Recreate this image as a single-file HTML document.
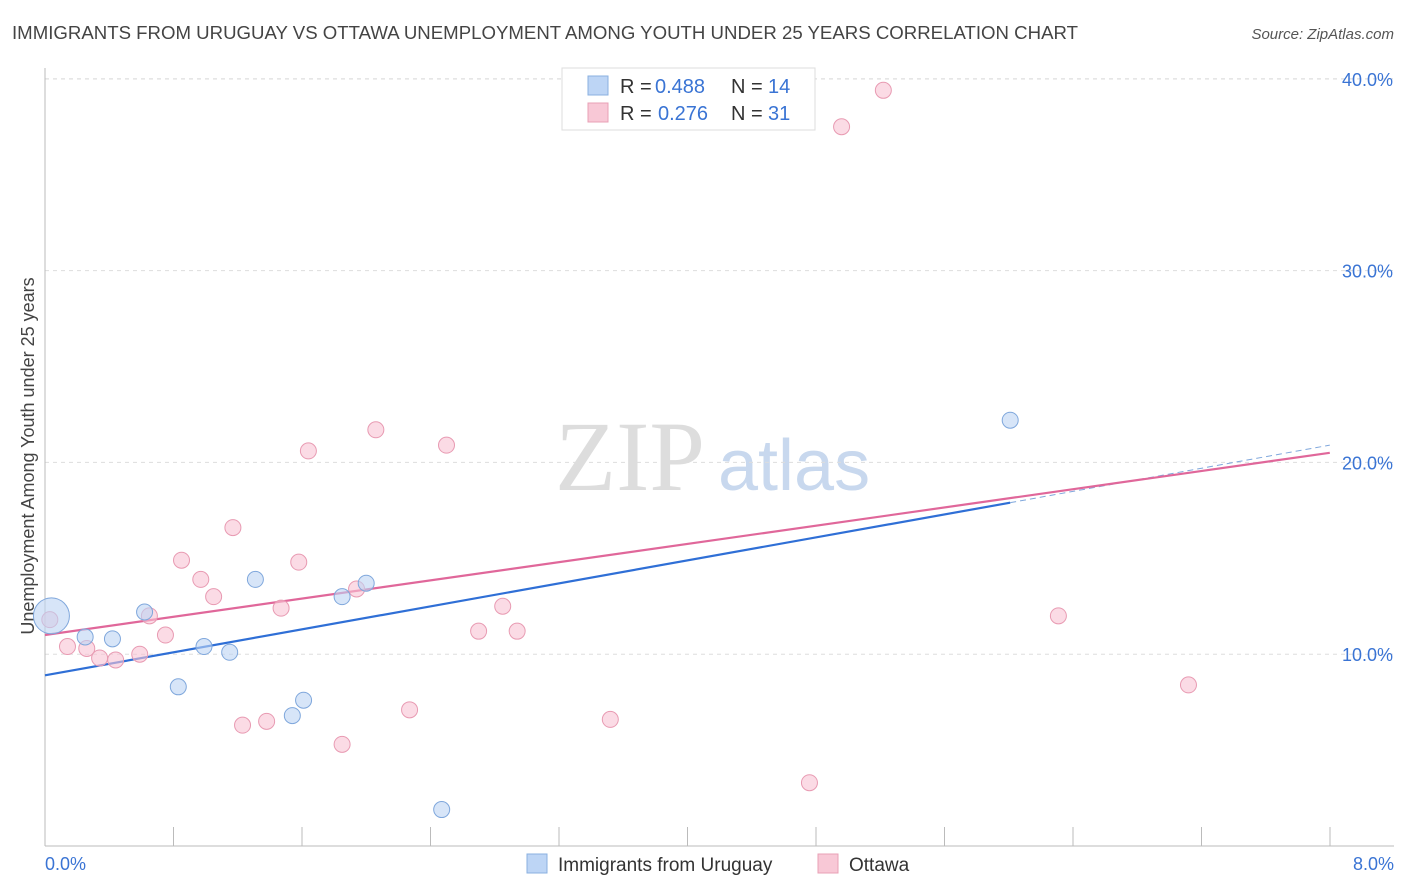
<!DOCTYPE html>
<html><head><meta charset="utf-8"><style>
body{margin:0;background:#fff;font-family:"Liberation Sans",sans-serif;}
#wrap{position:relative;width:1406px;height:892px;overflow:hidden}
</style></head><body>
<div id="wrap">
<svg id="chart" width="1406" height="892">
<text x="12" y="39" font-size="18" fill="#444" textLength="1066" lengthAdjust="spacingAndGlyphs">IMMIGRANTS FROM URUGUAY VS OTTAWA UNEMPLOYMENT AMONG YOUTH UNDER 25 YEARS CORRELATION CHART</text>
<text x="1394" y="39" font-size="15" fill="#555" font-style="italic" text-anchor="end">Source: ZipAtlas.com</text>
<text x="34" y="456" font-size="18" fill="#444" text-anchor="middle" transform="rotate(-90 34 456)">Unemployment Among Youth under 25 years</text>
<text x="555" y="490" font-size="100" fill="#ddd" font-family="Liberation Serif,serif">ZIP</text>
<text x="718" y="490" font-size="72" fill="#c8d8ee">atlas</text>
<g id="grid"></g><g id="axes"></g><g id="lines"></g><g id="pts"></g>
<g>
<rect x="562" y="68" width="253" height="62" fill="#fff" stroke="#ddd"/>
<rect x="588" y="76" width="20" height="19" fill="#bdd5f5" stroke="#8ab0e0"/>
<text x="620" y="93" font-size="20" fill="#333">R =</text>
<text x="655" y="93" font-size="20" fill="#3a74d4">0.488</text>
<text x="731" y="93" font-size="20" fill="#333">N =</text>
<text x="768" y="93" font-size="20" fill="#3a74d4">14</text>
<rect x="588" y="103" width="20" height="19" fill="#f8c8d6" stroke="#e8a0b6"/>
<text x="620" y="120" font-size="20" fill="#333">R =</text>
<text x="658" y="120" font-size="20" fill="#3a74d4">0.276</text>
<text x="731" y="120" font-size="20" fill="#333">N =</text>
<text x="768" y="120" font-size="20" fill="#3a74d4">31</text>
</g>
<g>
<rect x="527" y="854" width="20" height="19" fill="#bdd5f5" stroke="#8ab0e0"/>
<text x="558" y="871" font-size="19" fill="#333">Immigrants from Uruguay</text>
<rect x="818" y="854" width="20" height="19" fill="#f8c8d6" stroke="#e8a0b6"/>
<text x="849" y="871" font-size="19" fill="#333">Ottawa</text>
</g>
</svg></div>
<script>
const yTicks=[10,20,30,40];
const xTickLabels=["0.0%","8.0%"];
const blueX=[0.04,0.25,0.42,0.62,0.83,0.99,1.15,1.31,1.54,1.61,1.85,2.0,2.47,6.01];
const blueY=[12.0,10.9,10.8,12.2,8.3,10.4,10.1,13.9,6.8,7.6,13.0,13.7,1.9,22.2];
const pinkX=[0.03,0.14,0.26,0.34,0.44,0.59,0.65,0.75,0.85,0.97,1.05,1.17,1.23,1.38,1.47,1.58,1.64,1.85,1.94,2.06,2.27,2.5,2.7,2.85,2.94,3.52,4.96,5.22,6.31,7.12,4.76];
const pinkY=[11.8,10.4,10.3,9.8,9.7,10.0,12.0,11.0,14.9,13.9,13.0,16.6,6.3,6.5,12.4,14.8,20.6,5.3,13.4,21.7,7.1,20.9,11.2,12.5,11.2,6.6,37.5,39.4,12.0,8.4,3.3];
const blueLine=[[0,8.9],[6.01,17.9]];
const blueDash=[[6.01,17.9],[8,20.9]];
const pinkLine=[[0,11.0],[8,20.5]];
const X=v=>45+v*160.6, Y=v=>846-v*19.18;
const NS="http://www.w3.org/2000/svg";
function mk(t,a,p){const e=document.createElementNS(NS,t);for(const k in a)e.setAttribute(k,a[k]);p.appendChild(e);return e;}
const gridG=document.getElementById('grid'),axG=document.getElementById('axes');
yTicks.forEach(t=>{const l=mk('line',{x1:45,x2:1394,y1:Y(t),y2:Y(t),stroke:'#ddd','stroke-dasharray':'4,4'},gridG);


const tx=mk('text',{x:1393,y:Y(t)+7,'font-size':18,fill:'#3a74d4','text-anchor':'end'},axG);tx.textContent=t.toFixed(1)+'%';

});
const topGrid=mk('line',{x1:45,x2:1394,y1:79,y2:79,stroke:'#ddd','stroke-dasharray':'4,4'},gridG);


const ya=mk('line',{x1:45,x2:45,y1:68,y2:846,stroke:'#bbb'},axG);


const xa=mk('line',{x1:45,x2:1394,y1:846,y2:846,stroke:'#bbb'},axG);


for(let i=1;i<=10;i++){mk('line',{x1:45+i*128.5,x2:45+i*128.5,y1:827,y2:846,stroke:'#bbb'},axG);}
[[0,'start',45],[8,'end',1394]].forEach((d,i)=>{const t=mk('text',{x:d[2],y:870,'font-size':18,fill:'#3a74d4','text-anchor':d[1]},axG);t.textContent=xTickLabels[i];

});
const pg=document.getElementById('pts');
function pts(xs,ys,f,s,n){xs.forEach((x,i)=>{const c=mk('circle',{cx:X(x),cy:Y(ys[i]),r:(n==='blue'&&i===0)?18:8,fill:f,'fill-opacity':0.6,stroke:s},pg);

});}
pts(pinkX,pinkY,'#f8c3d3','#e89ab2','ottawa');
pts(blueX,blueY,'#bcd4f4','#7fa7dc','blue');
const lg=document.getElementById('lines');
function ln(p,c,d,n){const l=mk('line',{x1:X(p[0][0]),y1:Y(p[0][1]),x2:X(p[1][0]),y2:Y(p[1][1]),stroke:c,'stroke-width':d?1:2.2,'stroke-dasharray':d?'6,4':'none'},lg);

}
ln(blueLine,'#2f6fd6',false,'uruguay-trendline');
ln(blueDash,'#7fa7dc',true,'uruguay-trendline-extension');
ln(pinkLine,'#e0679a',false,'ottawa-trendline');
</script>
</body></html>
